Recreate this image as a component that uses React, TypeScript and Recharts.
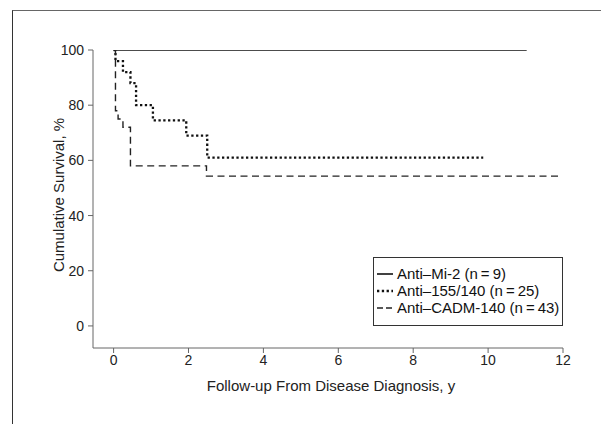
import React from "react";
import { LineChart, Line, XAxis, YAxis } from "recharts";

const miTimes = [0, 11.03];
const miSurv = [100, 100];
const p155Times = [0, 0.05, 0.25, 0.45, 0.6, 1.05, 1.94, 2.5, 9.87];
const p155Surv = [100, 96, 92, 88, 80, 74.5, 69, 61, 61];
const cadmTimes = [0, 0.05, 0.12, 0.25, 0.45, 2.48, 11.87];
const cadmSurv = [100, 78, 75, 72, 58, 54.3, 54.3];
const xTicks = [0, 2, 4, 6, 8, 10, 12];
const yTicks = [0, 20, 40, 60, 80, 100];
const seriesNames = ["Anti\u2013Mi-2 (n\u2009=\u20099)", "Anti\u2013155/140 (n\u2009=\u200925)", "Anti\u2013CADM-140 (n\u2009=\u200943)"];

const toData = (ts: number[], ss: number[]) => ts.map((t, i) => ({ t, s: ss[i] }));
const miData = toData(miTimes, miSurv);
const p155Data = toData(p155Times, p155Surv);
const cadmData = toData(cadmTimes, cadmSurv);

const FONT = "'Liberation Sans', Arial, sans-serif";
const styles = [
  { stroke: "#111", width: 1.6, dash: undefined as string | undefined },
  { stroke: "#111", width: 2.3, dash: "2.3 2.5" },
  { stroke: "#222", width: 1.4, dash: "7 4.5" },
];

const LegendBox = () => (
  <div
    style={{
      position: "absolute",
      left: 373,
      top: 257,
      width: 190,
      height: 69,
      border: "1px solid #333",
      background: "#fff",
      boxSizing: "border-box",
      padding: "7px 0 0 2px",
      fontFamily: FONT,
      fontSize: 15,
      color: "#111",
    }}
  >
    {seriesNames.map((n, i) => (
      <div key={n} style={{ display: "flex", alignItems: "center", height: 17 }}>
        <svg width={19} height={10} style={{ marginRight: 2 }}>
          <line x1={1} y1={5} x2={17} y2={5} stroke={styles[i].stroke} strokeWidth={styles[i].width} strokeDasharray={i === 2 ? "6 3" : styles[i].dash} />
        </svg>
        <span style={{ whiteSpace: "nowrap" }}>{n}</span>
      </div>
    ))}
  </div>
);

export default function App() {
  return (
    <div style={{ position: "absolute", left: 0, top: 0, width: 601, height: 424, background: "#fff" }}>
      <div style={{ position: "absolute", left: 12, top: 10, right: 0, bottom: 0, borderLeft: "1.5px solid #333", borderTop: "1px solid #666" }} />
      <div style={{ position: "absolute", left: 0, top: 0 }}>
        <LineChart width={601} height={424} margin={{ top: 50, right: 38, bottom: 46, left: 0 }}>
          <XAxis
            dataKey="t"
            type="number"
            domain={[-0.55, 12]}
            ticks={xTicks}
            allowDataOverflow
            allowDuplicatedCategory={false}
            height={30}
            stroke="#666"
            tickSize={5}
            tickMargin={2}
            tick={{ fill: "#222", fontSize: 14, fontFamily: FONT }}
            label={{
              content: (props: any) => {
                const vb = props.viewBox;
                return (
                  <text x={vb.x + vb.width / 2 + 3} y={vb.y + 43} textAnchor="middle" fill="#222" fontSize={15} fontFamily={FONT}>
                    Follow-up From Disease Diagnosis, y
                  </text>
                );
              },
            }}
          />
          <YAxis
            type="number"
            domain={[-8, 100]}
            ticks={yTicks}
            allowDataOverflow
            width={93}
            stroke="#666"
            tickSize={5}
            tickMargin={4}
            tick={{ fill: "#222", fontSize: 14, fontFamily: FONT }}
            label={{
              content: (props: any) => {
                const vb = props.viewBox;
                const cx = vb.x + 58;
                const cy = vb.y + vb.height / 2 - 4;
                return (
                  <text x={cx} y={cy} transform={`rotate(-90, ${cx}, ${cy})`} textAnchor="middle" dominantBaseline="central" fill="#222" fontSize={15} fontFamily={FONT}>
                    Cumulative Survival, %
                  </text>
                );
              },
            }}
          />
          <Line data={miData} dataKey="s" type="stepAfter" stroke={styles[0].stroke} strokeWidth={styles[0].width} dot={false} isAnimationActive={false} />
          <Line data={p155Data} dataKey="s" type="stepAfter" stroke={styles[1].stroke} strokeWidth={styles[1].width} strokeDasharray={styles[1].dash} dot={false} isAnimationActive={false} />
          <Line data={cadmData} dataKey="s" type="stepAfter" stroke={styles[2].stroke} strokeWidth={styles[2].width} strokeDasharray={styles[2].dash} dot={false} isAnimationActive={false} />
        </LineChart>
      </div>
      <LegendBox />
    </div>
  );
}
